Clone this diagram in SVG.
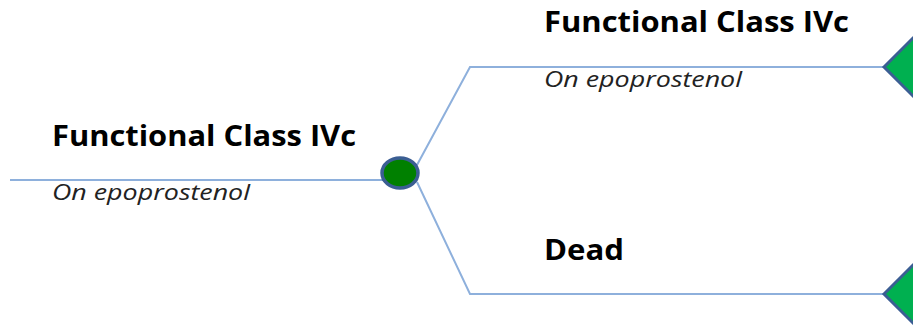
<svg xmlns="http://www.w3.org/2000/svg" width="913" height="326" viewBox="0 0 913 326">
<style>
.t{font-family:"Open Sans","Liberation Sans",sans-serif;font-weight:bold;font-size:28px;fill:#000}
.s{font-family:"Open Sans","Liberation Sans",sans-serif;font-style:italic;font-size:21px;fill:#222}
.ln{stroke:#8eb0dc;stroke-width:2;fill:none}
.dm{fill:#00b050;stroke:#3b5e93;stroke-width:3}
</style>
<rect width="913" height="326" fill="#fff"/>
<g id="connectors">
<line class="ln" x1="10" y1="180" x2="383" y2="180"/>
<polyline class="ln" points="417,165 470,67 886,67"/>
<polyline class="ln" points="417,182 470,294 886,294"/>
</g>
<g id="root">
<text class="t" x="52" y="146" textLength="304" lengthAdjust="spacingAndGlyphs">Functional Class IVc</text>
<text class="s" x="52" y="200" textLength="198" lengthAdjust="spacingAndGlyphs">On epoprostenol</text>
</g>
<g id="chance">
<ellipse cx="400" cy="173" rx="18" ry="15" fill="#008000" stroke="#3b5e93" stroke-width="3.5"/>
</g>
<g id="branch-top">
<text class="t" x="544" y="32" textLength="305" lengthAdjust="spacingAndGlyphs">Functional Class IVc</text>
<text class="s" x="544" y="87" textLength="198" lengthAdjust="spacingAndGlyphs">On epoprostenol</text>
<polygon class="dm" points="884,67 918,33 952,67 918,101"/>
</g>
<g id="branch-dead">
<text class="t" x="544" y="260" textLength="80" lengthAdjust="spacingAndGlyphs">Dead</text>
<polygon class="dm" points="884,294 918,260 952,294 918,328"/>
</g>
</svg>
